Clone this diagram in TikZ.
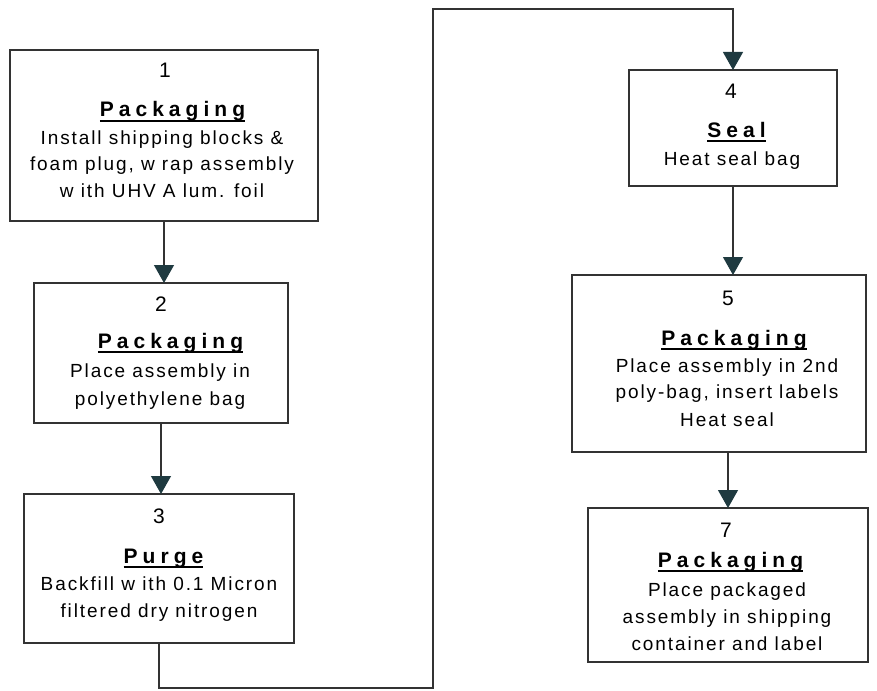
\documentclass[tikz,border=0pt]{standalone}
\usepackage{fontspec}
\setmainfont{Liberation Sans}
\newfontfamily\bodyfont[LetterSpace=10]{Liberation Sans}
\newfontfamily\headfont[LetterSpace=24]{Liberation Sans}
\usetikzlibrary{arrows.meta}
\definecolor{linec}{HTML}{333333}
\definecolor{tipc}{HTML}{1F3A40}
\newcommand\myhead[1]{\setbox0\hbox{\headfont\bfseries #1}\rlap{\rule[-4.5pt]{\wd0}{1.8pt}}\box0}
\tikzset{
  box/.style={draw=linec, line width=1.3pt, inner sep=0pt, outer sep=0pt, fill=white},
  numtxt/.style={anchor=base, inner sep=0pt, font=\fontsize{21}{24}\selectfont},
  headtxt/.style={anchor=base, inner sep=0pt, font=\fontsize{21}{24}\selectfont},
  bodytxt/.style={anchor=base, inner sep=0pt, align=center, font=\fontsize{19}{26.5}\selectfont\bodyfont},
  conn/.style={draw=linec, line width=1.2pt, -{Triangle[width=20pt,length=18pt,color=tipc]}}
}
\begin{document}
\begin{tikzpicture}[x=1pt,y=-1pt]
\useasboundingbox (0,0) rectangle (877,690);
% boxes
\node[box, minimum width=308pt, minimum height=171pt] (b1) at (164,135.5) {};
\node[box, minimum width=254pt, minimum height=140pt] (b2) at (161,353) {};
\node[box, minimum width=270pt, minimum height=149pt] (b3) at (159,568.5) {};
\node[box, minimum width=208pt, minimum height=116pt] (b4) at (733,128) {};
\node[box, minimum width=294pt, minimum height=177pt] (b5) at (719,363.5) {};
\node[box, minimum width=280pt, minimum height=154pt] (b7) at (728,585) {};
% texts box 1
\node[numtxt] (n1) at (165,78) {1};
\node[headtxt] (h1) at (172.5,117) {\myhead{Packaging}};
\node[bodytxt] (d1) at (162,197) {Install shipping blocks \&\\foam plug, w rap assembly\\w ith UHV A lum. foil};
% box 2
\node[numtxt] (n2) at (161,311) {2};
\node[headtxt] (h2) at (170.5,348) {\myhead{Packaging}};
\node[bodytxt] (d2) at (160,405) {Place assembly in\\[1.5pt]polyethylene bag};
% box 3
\node[numtxt] (n3) at (159,523) {3};
\node[headtxt] (h3) at (163.5,563) {\myhead{Purge}};
\node[bodytxt] (d3) at (159,617) {Backfill w ith 0.1 Micron\\filtered dry nitrogen};
% box 4
\node[numtxt] (n4) at (731,99) {4};
\node[headtxt] (h4) at (736.5,137) {\myhead{Seal}};
\node[bodytxt] (d4) at (732,165) {Heat seal bag};
% box 5
\node[numtxt] (n5) at (728,305) {5};
\node[headtxt] (h5) at (734,345) {\myhead{Packaging}};
\node[bodytxt] (d5) at (727,426) {Place assembly in 2nd\\poly-bag, insert labels\\[1pt]Heat seal};
% box 7
\node[numtxt] (n7) at (726,537) {7};
\node[headtxt] (h7) at (730.5,567) {\myhead{Packaging}};
\node[bodytxt] (d7) at (727,650) {Place packaged\\[1pt]assembly in shipping\\container and label};
% connectors
\coordinate (lb) at (433,688);
\coordinate (lt) at (433,9);
\draw[conn] (b1.south) -- (b1.south |- b2.north);
\draw[conn] (b2.south) -- (b2.south |- b3.north);
\draw[conn] (b3.south) -- (b3.south |- lb) -- (lb) -- (lt) -| (b4.north);
\draw[conn] (b4.south) -- (b4.south |- b5.north);
\draw[conn] (b7.north |- b5.south) -- (b7.north);
\end{tikzpicture}
\end{document}
